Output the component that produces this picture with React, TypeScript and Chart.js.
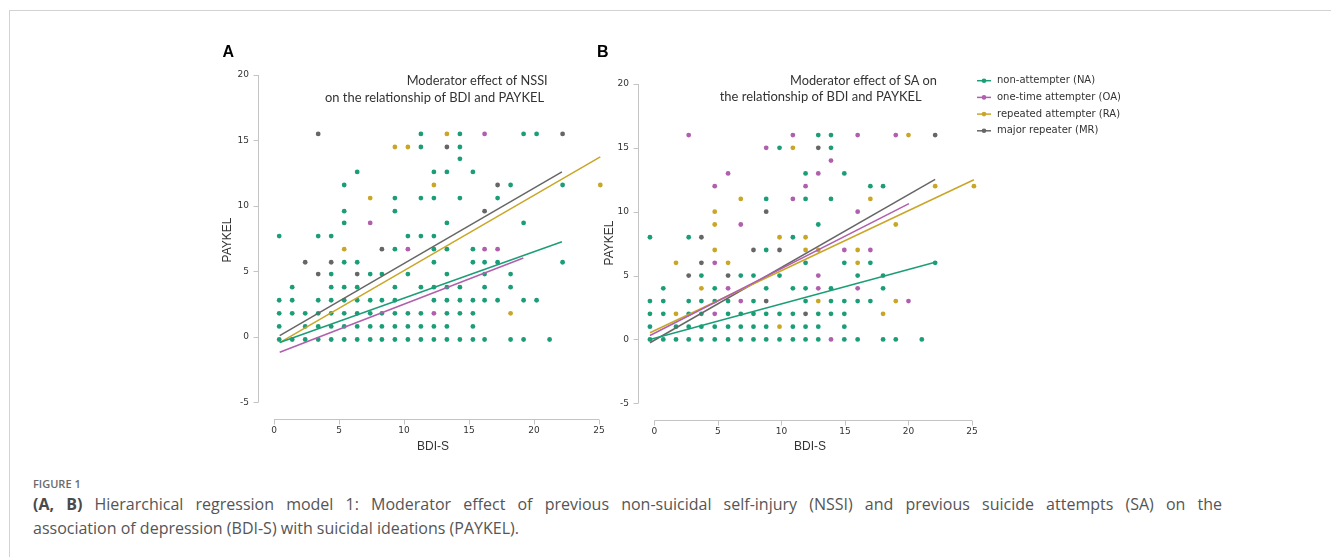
import React, { useEffect, useRef } from "react";
import { Chart, registerables } from "chart.js";

Chart.register(...registerables);

type P = [number, number];

// ---------- DATA ----------
const GROUP_LABELS = ["non-attempter (NA)", "one-time attempter (OA)", "repeated attempter (RA)", "major repeater (MR)"];
const GROUP_COLORS = ["#1b9e77", "#b05fae", "#c9a626", "#666666"];

const X_TICKS = [0, 5, 10, 15, 20, 25];
const Y_TICKS = [-5, 0, 5, 10, 15, 20];

// Panel A: moderator NSSI
const A_NA: P[] = [
  [11.3, 15.5], [14.3, 15.5], [19.2, 15.5], [20.2, 15.5],
  [11.3, 14.5], [14.3, 14.5],
  [14.3, 13.6],
  [6.4, 12.6], [12.3, 12.6], [13.3, 12.6], [15.3, 12.6],
  [5.4, 11.6], [18.2, 11.6], [22.2, 11.6],
  [9.3, 10.6], [11.3, 10.6], [12.3, 10.6], [14.3, 10.6], [17.2, 10.6],
  [5.4, 9.6], [9.3, 9.6],
  [5.4, 8.7], [13.3, 8.7], [19.2, 8.7],
  [0.4, 7.7], [3.4, 7.7], [4.4, 7.7], [10.3, 7.7], [11.3, 7.7], [12.3, 7.7],
  [9.3, 6.7], [12.3, 6.7], [13.3, 6.7], [15.3, 6.7],
  [5.4, 5.7], [6.4, 5.7], [12.3, 5.7], [15.3, 5.7], [16.2, 5.7], [17.2, 5.7], [22.2, 5.7],
  [4.4, 4.8], [7.4, 4.8], [8.3, 4.8], [10.3, 4.8], [13.3, 4.8], [16.2, 4.8], [18.2, 4.8],
  [1.4, 3.8], [4.4, 3.8], [5.4, 3.8], [6.4, 3.8], [9.3, 3.8], [11.3, 3.8], [12.3, 3.8], [13.3, 3.8], [14.3, 3.8], [16.2, 3.8], [18.2, 3.8],
  [0.4, 2.8], [1.4, 2.8], [3.4, 2.8], [4.4, 2.8], [5.4, 2.8], [6.4, 2.8], [7.4, 2.8], [8.3, 2.8], [9.3, 2.8], [12.3, 2.8], [13.3, 2.8], [14.3, 2.8], [15.3, 2.8], [16.2, 2.8], [17.2, 2.8], [19.2, 2.8], [20.2, 2.8],
  [0.4, 1.8], [1.4, 1.8], [2.4, 1.8], [3.4, 1.8], [4.4, 1.8], [5.4, 1.8], [6.4, 1.8], [7.4, 1.8], [8.3, 1.8], [9.3, 1.8], [10.3, 1.8], [11.3, 1.8], [13.3, 1.8], [14.3, 1.8], [15.3, 1.8],
  [0.4, 0.8], [2.4, 0.8], [3.4, 0.8], [4.4, 0.8], [5.4, 0.8], [6.4, 0.8], [7.4, 0.8], [8.3, 0.8], [9.3, 0.8], [10.3, 0.8], [11.3, 0.8], [12.3, 0.8], [13.3, 0.8], [15.3, 0.8],
  [0.4, -0.2], [1.4, -0.2], [2.4, -0.2], [3.4, -0.2], [4.4, -0.2], [5.4, -0.2], [6.4, -0.2], [7.4, -0.2], [8.3, -0.2], [9.3, -0.2], [10.3, -0.2], [11.3, -0.2], [12.3, -0.2], [13.3, -0.2], [14.3, -0.2], [15.3, -0.2], [16.2, -0.2], [18.2, -0.2], [19.2, -0.2], [21.2, -0.2],
];
const A_OA: P[] = [[16.2, 15.5], [7.4, 8.7], [10.3, 6.7], [16.2, 6.7], [17.2, 6.7], [12.3, 1.8]];
const A_RA: P[] = [[13.3, 15.5], [9.3, 14.5], [10.3, 14.5], [12.3, 11.6], [25.1, 11.6], [7.4, 10.6], [5.4, 6.7], [18.2, 1.8]];
const A_MR: P[] = [[3.4, 15.5], [22.2, 15.5], [13.3, 14.5], [17.2, 11.6], [16.2, 9.6], [8.3, 6.7], [2.4, 5.7], [4.4, 5.7], [3.4, 4.8], [6.4, 4.8]];

const A_LINE_NA: P[] = [[0.44, -0.43], [22.15, 7.27]];
const A_LINE_OA: P[] = [[0.44, -1.17], [19.18, 6.02]];
const A_LINE_RA: P[] = [[0.44, -0.43], [25.1, 13.75]];
const A_LINE_MR: P[] = [[0.44, 0.1], [22.15, 12.6]];

// Panel B: moderator SA
const B_NA: P[] = [
  [12.9, 16], [13.9, 16],
  [9.85, 15], [13.9, 15],
  [11.9, 13], [14.95, 13],
  [17, 12], [18, 12],
  [8.8, 11], [11.9, 11], [13.9, 11],
  [12.9, 9],
  [-0.35, 8], [2.7, 8], [10.9, 8],
  [8.8, 7],
  [11.9, 6], [14.95, 6], [17, 6], [22.1, 6],
  [3.7, 5], [6.8, 5], [7.8, 5], [9.85, 5], [16, 5], [18, 5],
  [0.7, 4], [4.75, 4], [8.8, 4], [10.9, 4], [11.9, 4], [13.9, 4], [18, 4],
  [-0.35, 3], [0.7, 3], [2.7, 3], [3.7, 3], [4.75, 3], [5.8, 3], [7.8, 3], [11.9, 3], [13.9, 3], [14.95, 3], [16, 3], [17, 3],
  [-0.35, 2], [0.7, 2], [2.7, 2], [3.7, 2], [5.8, 2], [6.8, 2], [7.8, 2], [8.8, 2], [9.85, 2], [10.9, 2], [12.9, 2], [13.9, 2], [14.95, 2],
  [-0.35, 1], [1.7, 1], [2.7, 1], [3.7, 1], [4.75, 1], [5.8, 1], [6.8, 1], [7.8, 1], [8.8, 1], [10.9, 1], [11.9, 1], [12.9, 1], [14.95, 1],
  [-0.35, 0], [0.7, 0], [1.7, 0], [2.7, 0], [3.7, 0], [4.75, 0], [5.8, 0], [6.8, 0], [7.8, 0], [8.8, 0], [9.85, 0], [10.9, 0], [11.9, 0], [12.9, 0], [14.95, 0], [16, 0], [18, 0], [19, 0], [21.05, 0],
];
const B_OA: P[] = [
  [2.7, 16], [10.9, 16], [16, 16], [19, 16], [8.8, 15], [13.9, 14], [5.8, 13], [12.9, 13], [4.75, 12], [11.9, 12],
  [10.9, 11], [16, 10], [6.8, 9], [14.95, 7], [17, 7], [4.75, 6], [12.9, 5], [5.8, 4], [12.9, 4], [16, 4],
  [6.8, 3], [20, 3], [4.75, 2], [13.9, 0],
];
const B_RA: P[] = [
  [20, 16], [10.9, 15], [22.1, 12], [25.15, 12], [6.8, 11], [17, 11], [4.75, 10], [4.75, 9], [19, 9], [9.85, 8],
  [11.9, 8], [4.75, 7], [11.9, 7], [12.9, 7], [16, 7], [1.7, 6], [5.8, 6], [16, 6], [3.7, 4], [12.9, 3],
  [19, 3], [1.7, 2], [18, 2], [9.85, 1],
];
const B_MR: P[] = [[22.1, 16], [12.9, 15], [8.8, 10], [3.7, 8], [7.8, 7], [9.85, 7], [3.7, 6], [2.7, 5], [5.8, 5], [8.8, 3], [11.9, 2]];

const B_LINE_NA: P[] = [[-0.35, 0.0], [22.1, 6.04]];
const B_LINE_OA: P[] = [[-0.35, 0.31], [20.04, 10.63]];
const B_LINE_RA: P[] = [[-0.35, 0.52], [25.15, 12.5]];
const B_LINE_MR: P[] = [[-0.35, -0.26], [22.1, 12.53]];

// ---------- STYLE ----------
const AXIS_COLOR = "#c4c4c4";
const TEXT_COLOR = "#333333";
const TICK_FONT = "DejaVu Sans";

type Decor = {
  letter: string;
  letterPos: [number, number];
  titleLines: { text: string; right: number; y: number; width: number }[];
  yTitlePos: [number, number];
  xTitlePos: [number, number];
  legend?: { markX: number; textX: number; y0: number; dy: number };
};

type PanelProps = {
  left: number;
  top: number;
  width: number;
  height: number;
  padding: { left: number; top: number; right: number; bottom: number };
  yWidth: number;
  xHeight: number;
  xMin: number;
  yMin: number;
  series: P[][];
  lines: P[][];
  decor: Decor;
};

function toXY(arr: P[]) {
  return arr.map(([x, y]) => ({ x, y }));
}

function makeDecorPlugin(d: Decor) {
  return {
    id: "decor",
    beforeDatasetsDraw(chart: any) {
      const { ctx, chartArea: ca, scales } = chart;
      const xs = scales.x;
      const ys = scales.y;
      ctx.save();
      ctx.strokeStyle = AXIS_COLOR;
      ctx.lineWidth = 1;
      ctx.beginPath();
      const ax = Math.round(ca.left) + 0.5;
      ctx.moveTo(ax, ys.getPixelForValue(Y_TICKS[Y_TICKS.length - 1]));
      ctx.lineTo(ax, ys.getPixelForValue(Y_TICKS[0]));
      for (const t of Y_TICKS) {
        const py = Math.round(ys.getPixelForValue(t)) + 0.5;
        ctx.moveTo(ax - 5, py);
        ctx.lineTo(ax, py);
      }
      const ay = Math.round(ca.bottom) + 0.5;
      ctx.moveTo(xs.getPixelForValue(X_TICKS[0]), ay);
      ctx.lineTo(xs.getPixelForValue(X_TICKS[X_TICKS.length - 1]), ay);
      for (const t of X_TICKS) {
        const px = Math.round(xs.getPixelForValue(t)) + 0.5;
        ctx.moveTo(px, ay);
        ctx.lineTo(px, ay + 5);
      }
      ctx.stroke();
      ctx.restore();
    },
    afterDraw(chart: any) {
      const { ctx } = chart;
      ctx.save();
      ctx.fillStyle = "#000";
      ctx.font = "bold 16px 'Liberation Sans', Arial, sans-serif";
      ctx.textAlign = "left";
      ctx.textBaseline = "middle";
      ctx.fillText(d.letter, d.letterPos[0], d.letterPos[1]);
      ctx.fillStyle = TEXT_COLOR;
      ctx.font = "13px Lato, sans-serif";
      ctx.textAlign = "right";
      for (const l of d.titleLines) {
        ctx.fillText(l.text, l.right, l.y, l.width);
      }
      ctx.font = "12px 'Liberation Sans', Arial, sans-serif";
      ctx.textAlign = "center";
      ctx.fillText("BDI-S", d.xTitlePos[0], d.xTitlePos[1]);
      ctx.save();
      ctx.translate(d.yTitlePos[0], d.yTitlePos[1]);
      ctx.rotate(-Math.PI / 2);
      ctx.fillText("PAYKEL", 0, 0);
      ctx.restore();
      if (d.legend) {
        const lg = d.legend;
        ctx.font = `10px '${TICK_FONT}', sans-serif`;
        ctx.textAlign = "left";
        GROUP_LABELS.forEach((lab, i) => {
          const y = lg.y0 + i * lg.dy;
          ctx.strokeStyle = GROUP_COLORS[i];
          ctx.lineWidth = 1.5;
          ctx.beginPath();
          ctx.moveTo(lg.markX - 7, y);
          ctx.lineTo(lg.markX + 7, y);
          ctx.stroke();
          ctx.fillStyle = GROUP_COLORS[i];
          ctx.beginPath();
          ctx.arc(lg.markX, y, 2.3, 0, Math.PI * 2);
          ctx.fill();
          ctx.fillStyle = TEXT_COLOR;
          ctx.fillText(lab, lg.textX, y);
        });
      }
      ctx.restore();
    },
  };
}

function Panel(props: PanelProps) {
  const ref = useRef<HTMLCanvasElement | null>(null);
  useEffect(() => {
    if (!ref.current) return;
    const lineSets = props.lines.map((ln, i) => ({
      label: GROUP_LABELS[i] + " fit",
      data: toXY(ln),
      showLine: true,
      borderColor: GROUP_COLORS[i],
      backgroundColor: GROUP_COLORS[i],
      borderWidth: 1.5,
      pointRadius: 0,
      pointHoverRadius: 0,
      clip: false as const,
    }));
    const pointSets = props.series.map((s, i) => ({
      label: GROUP_LABELS[i],
      data: toXY(s),
      showLine: false,
      backgroundColor: GROUP_COLORS[i],
      borderColor: GROUP_COLORS[i],
      borderWidth: 0,
      pointRadius: 2.4,
      clip: false as const,
    }));
    const chart = new Chart(ref.current, {
      type: "scatter",
      data: { datasets: [...lineSets, ...pointSets] as any },
      options: {
        animation: false,
        responsive: false,
        maintainAspectRatio: false,
        events: [],
        layout: { padding: props.padding },
        plugins: { legend: { display: false }, tooltip: { enabled: false }, title: { display: false } },
        scales: {
          x: {
            type: "linear",
            min: props.xMin,
            max: 25,
            grid: { display: false, drawTicks: false, tickLength: 0 },
            border: { display: false },
            ticks: {
              padding: 6,
              color: TEXT_COLOR,
              font: { family: TICK_FONT, size: 9 },
              callback: (v: any) => String(v),
            },
            afterBuildTicks: (s: any) => {
              s.ticks = X_TICKS.map((v) => ({ value: v }));
            },
            afterFit: (s: any) => {
              s.height = props.xHeight;
            },
          },
          y: {
            type: "linear",
            min: props.yMin,
            max: 20,
            grid: { display: false, drawTicks: false, tickLength: 0 },
            border: { display: false },
            ticks: {
              padding: 9,
              color: TEXT_COLOR,
              font: { family: TICK_FONT, size: 9 },
              callback: (v: any) => String(v),
            },
            afterBuildTicks: (s: any) => {
              s.ticks = Y_TICKS.map((v) => ({ value: v }));
            },
            afterFit: (s: any) => {
              s.width = props.yWidth;
            },
          },
        },
      } as any,
      plugins: [makeDecorPlugin(props.decor)],
    });
    return () => chart.destroy();
  }, []);
  return (
    <canvas
      ref={ref}
      width={props.width}
      height={props.height}
      style={{ position: "absolute", left: props.left, top: props.top, width: props.width, height: props.height }}
    />
  );
}

const captionFont = {
  fontFamily: "'Open Sans', sans-serif",
  fontSize: 16,
  lineHeight: "23.5px",
  color: "#555",
  whiteSpace: "nowrap" as const,
};

export default function App() {
  return (
    <div style={{ position: "absolute", left: 0, top: 0, width: 1331, height: 557, overflow: "hidden", background: "#fff" }}>
      <div style={{ position: "absolute", left: 9, top: 10, width: 1400, height: 700, border: "1px solid #d2d2d2" }} />
      <Panel
        left={200}
        top={30}
        width={420}
        height={430}
        padding={{ left: 18, top: 45, right: 21, bottom: 0 }}
        yWidth={40}
        xHeight={41}
        xMin={-1.23}
        yMin={-6.27}
        series={[A_NA, A_OA, A_RA, A_MR]}
        lines={[A_LINE_NA, A_LINE_OA, A_LINE_RA, A_LINE_MR]}
        decor={{
          letter: "A",
          letterPos: [22.5, 23],
          titleLines: [
            { text: "Moderator effect of NSSI", right: 347.7, y: 51, width: 141 },
            { text: "on the relationship of BDI and PAYKEL", right: 344, y: 67.7, width: 219 },
          ],
          yTitlePos: [28, 210],
          xTitlePos: [233, 417],
        }}
      />
      <Panel
        left={590}
        top={30}
        width={560}
        height={430}
        padding={{ left: 8, top: 54, right: 178, bottom: 0 }}
        yWidth={40}
        xHeight={40}
        xMin={-1.29}
        yMin={-6.31}
        series={[B_NA, B_OA, B_RA, B_MR]}
        lines={[B_LINE_NA, B_LINE_OA, B_LINE_RA, B_LINE_MR]}
        decor={{
          letter: "B",
          letterPos: [7, 23],
          titleLines: [
            { text: "Moderator effect of SA on", right: 347, y: 50.7, width: 147 },
            { text: "the relationship of BDI and PAYKEL", right: 331.7, y: 67.3, width: 202 },
          ],
          yTitlePos: [20, 213],
          xTitlePos: [220, 417],
          legend: { markX: 394, textX: 407, y0: 50.7, dy: 16.7 },
        }}
      />
      <div
        style={{
          position: "absolute",
          left: 33,
          top: 476,
          fontFamily: "'Open Sans', sans-serif",
          fontSize: 11,
          fontWeight: 600,
          lineHeight: "16px",
          color: "#6b6b6b",
          whiteSpace: "nowrap",
        }}
      >
        FIGURE 1
      </div>
      <div
        style={{
          ...captionFont,
          position: "absolute",
          left: 33,
          top: 493,
          width: 1189,
          textAlign: "justify",
          textAlignLast: "justify",
          whiteSpace: "normal",
        }}
      >
        <b style={{ fontWeight: 700, color: "#4a4a4a" }}>(A, B)</b> Hierarchical regression model 1: Moderator effect of previous non-suicidal self-injury (NSSI) and previous suicide attempts (SA) on the
      </div>
      <div style={{ ...captionFont, position: "absolute", left: 33, top: 516.5 }}>
        association of depression (BDI-S) with suicidal ideations (PAYKEL).
      </div>
    </div>
  );
}
